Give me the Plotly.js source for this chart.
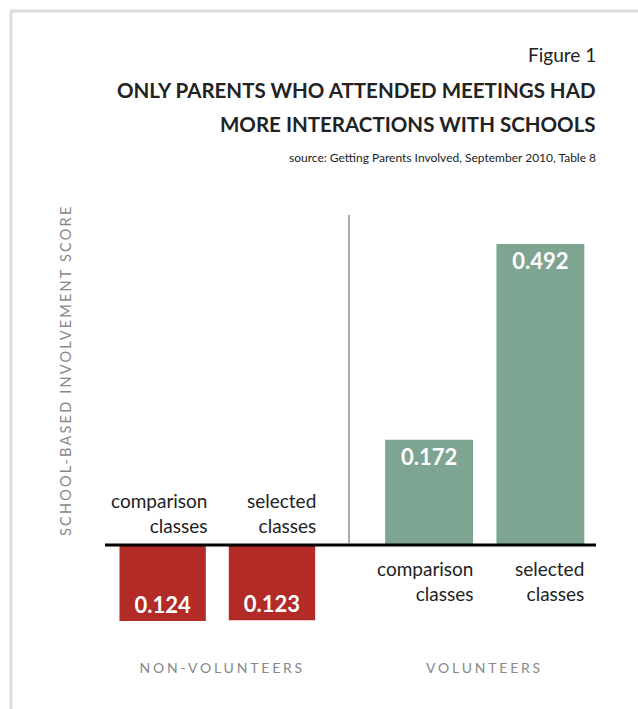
<!DOCTYPE html>
<html>
<head>
<meta charset="utf-8">
<script src="https://cdn.plot.ly/plotly-3.0.1.min.js"></script>
<style>
  html, body { margin: 0; padding: 0; background: #fff; }
  #chart { width: 638px; height: 709px; }
</style>
</head>
<body>
<div id="chart"></div>
<script>
// ---- data ----
var groups = ["NON-VOLUNTEERS", "VOLUNTEERS"];
var categories = ["comparison classes", "selected classes"];
var categoryLabels = ["comparison<br>classes", "selected<br>classes"];
var nonVolunteerValues = [-0.124, -0.123];
var volunteerValues = [0.172, 0.492];
var figureLabel = "Figure 1";
var titleLines = ["ONLY PARENTS WHO ATTENDED MEETINGS HAD", "MORE INTERACTIONS WITH SCHOOLS"];
var sourceText = "source: Getting Parents Involved, September 2010, Table 8";
var yTitle = "SCHOOL-BASED INVOLVEMENT SCORE";

// ---- styles ----
var FONT = "Lato, 'Open Sans', sans-serif";
var RED = "#b22b27";
var GREEN = "#7ea592";
var fmt = function (v) { return Math.abs(v).toFixed(3); };

var traces = [
  {
    type: "bar", x: categories, y: nonVolunteerValues, xaxis: "x", yaxis: "y",
    marker: { color: RED }, text: nonVolunteerValues.map(fmt),
    textposition: "inside", insidetextanchor: "end", textangle: 0,
    constraintext: "none",
    textfont: { family: FONT, size: 22, color: "#fff", weight: 700 },
    hoverinfo: "skip"
  },
  {
    type: "bar", x: categories, y: volunteerValues, xaxis: "x2", yaxis: "y",
    marker: { color: GREEN }, text: volunteerValues.map(fmt),
    textposition: "inside", insidetextanchor: "end", textangle: 0,
    constraintext: "none",
    textfont: { family: FONT, size: 22, color: "#fff", weight: 700 },
    hoverinfo: "skip"
  }
];

var L = 108, T = 200, W = 488, H = 440;
function px(x) { return (x - L) / W; }
function py(y) { return (T + H - y) / H; }

var annotations = [];
// titles
annotations.push({ xref: "paper", yref: "paper", x: px(598), y: py(55), xanchor: "right", yanchor: "middle",
  text: figureLabel, showarrow: false, font: { family: FONT, size: 19, color: "#222" } });
annotations.push({ xref: "paper", yref: "paper", x: px(598), y: py(90), xanchor: "right", yanchor: "middle",
  text: titleLines[0], showarrow: false, font: { family: FONT, size: 20.5, color: "#222", weight: 700 } });
annotations.push({ xref: "paper", yref: "paper", x: px(598), y: py(124), xanchor: "right", yanchor: "middle",
  text: titleLines[1], showarrow: false, font: { family: FONT, size: 20.5, color: "#222", weight: 700 } });
annotations.push({ xref: "paper", yref: "paper", x: px(598), y: py(157), xanchor: "right", yanchor: "middle",
  text: sourceText, showarrow: false, font: { family: FONT, size: 12, color: "#222" } });
// y title
annotations.push({ xref: "paper", yref: "paper", x: px(65), y: py(371), xanchor: "center", yanchor: "middle",
  textangle: -90, text: yTitle, showarrow: false, font: { family: FONT, size: 14.5, color: "#888" } });
// category labels
categories.forEach(function (c, i) {
  annotations.push({ xref: "x", yref: "y", x: c, y: 0, xanchor: "right", yanchor: "bottom",
    xshift: 46, yshift: 6, align: "right", text: categoryLabels[i], showarrow: false,
    font: { family: FONT, size: 19, color: "#222" } });
  annotations.push({ xref: "x2", yref: "y", x: c, y: 0, xanchor: "right", yanchor: "top",
    xshift: 46, yshift: -10, align: "right", text: categoryLabels[i], showarrow: false,
    font: { family: FONT, size: 19, color: "#222" } });
});
// group labels
annotations.push({ xref: "paper", yref: "paper", x: px(222), y: py(667), xanchor: "center", yanchor: "middle",
  text: groups[0], showarrow: false, font: { family: FONT, size: 14, color: "#888" } });
annotations.push({ xref: "paper", yref: "paper", x: px(484), y: py(667), xanchor: "center", yanchor: "middle",
  text: groups[1], showarrow: false, font: { family: FONT, size: 14, color: "#888" } });

var shapes = [
  // frame
  { type: "line", xref: "paper", yref: "paper", x0: px(10), x1: px(700), y0: py(11), y1: py(11),
    line: { color: "#dcdcdc", width: 3 } },
  { type: "line", xref: "paper", yref: "paper", x0: px(11), x1: px(11), y0: py(11), y1: py(720),
    line: { color: "#dcdcdc", width: 3 } },
  // divider
  { type: "line", xref: "paper", yref: "paper", x0: px(349), x1: px(349), y0: py(215), y1: py(543),
    line: { color: "#aaaaaa", width: 2 } },
  // zero line
  { type: "line", xref: "paper", yref: "y", x0: px(105), x1: px(596), y0: 0, y1: 0,
    line: { color: "#000", width: 3 } }
];

var layout = {
  width: 638, height: 709,
  margin: { l: L, r: 638 - L - W, t: T, b: 709 - T - H, pad: 0 },
  paper_bgcolor: "#fff", plot_bgcolor: "#fff",
  showlegend: false,
  bargap: 0.21,
  xaxis: { domain: [0, 0.448], anchor: "y", showticklabels: false, showgrid: false, zeroline: false, showline: false, ticks: "", fixedrange: true },
  xaxis2: { domain: [0.544, 1], anchor: "y", showticklabels: false, showgrid: false, zeroline: false, showline: false, ticks: "", fixedrange: true },
  yaxis: { range: [-(640 - 545) / 612, (545 - 200) / 612], showticklabels: false, showgrid: false, zeroline: false, showline: false, ticks: "", fixedrange: true },
  annotations: annotations,
  shapes: shapes,
  font: { family: FONT }
};

Plotly.newPlot("chart", traces, layout, { displayModeBar: false, staticPlot: true }).then(function () {
  document.querySelectorAll(".annotation-text").forEach(function (el) {
    var t = el.textContent;
    if (t === groups[0] || t === groups[1]) { el.style.letterSpacing = "2.8px"; }
    else if (t === yTitle) { el.style.letterSpacing = "2.2px"; }
  });
});
</script>
</body>
</html>
